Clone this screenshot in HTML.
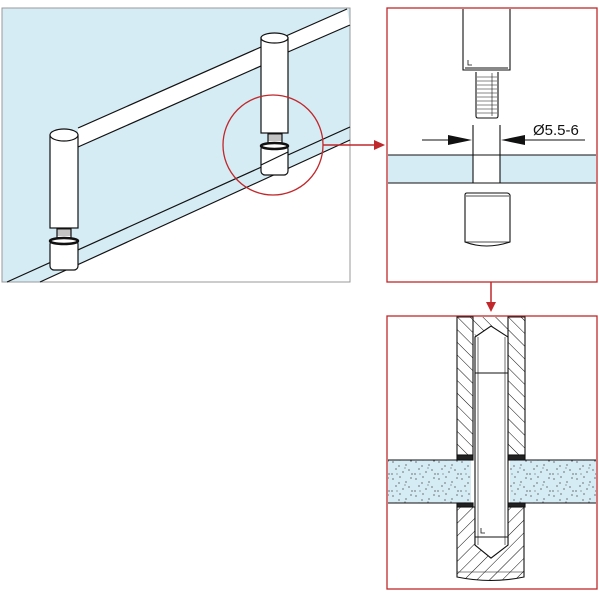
<!DOCTYPE html>
<html><head><meta charset="utf-8"><style>html,body{margin:0;padding:0;background:#fff}svg{display:block}</style></head>
<body>
<svg width="600" height="600" viewBox="0 0 600 600" xmlns="http://www.w3.org/2000/svg">
<defs>
<pattern id="h1" width="9" height="9" patternUnits="userSpaceOnUse" patternTransform="rotate(45)"><line x1="0" y1="0" x2="0" y2="9" stroke="#111" stroke-width="1"/></pattern>
<pattern id="h2" width="9" height="9" patternUnits="userSpaceOnUse" patternTransform="rotate(-45)"><line x1="0" y1="0" x2="0" y2="9" stroke="#111" stroke-width="1"/></pattern>
<pattern id="dots" width="23" height="17" patternUnits="userSpaceOnUse">
<rect width="23" height="17" fill="#d6ecf5"/>
<g fill="#222"><circle cx="2" cy="3" r=".6"/><circle cx="9" cy="1" r=".6"/><circle cx="15" cy="6" r=".6"/><circle cx="20" cy="2" r=".6"/><circle cx="5" cy="10" r=".6"/><circle cx="12" cy="13" r=".6"/><circle cx="18" cy="11" r=".6"/><circle cx="1" cy="15" r=".6"/><circle cx="8" cy="7" r=".6"/><circle cx="21" cy="15" r=".6"/><circle cx="14" cy="9" r=".5"/><circle cx="6" cy="15" r=".5"/></g>
</pattern>
</defs>
<!-- left panel -->
<polygon points="2,8 350,8 350,140 40,282 2,282" fill="#d6ecf5"/>
<rect x="2" y="8" width="348" height="274" fill="none" stroke="#999" stroke-width="1"/>
<g stroke="#111" stroke-width="1.2" fill="none">
<line x1="7" y1="282" x2="350" y2="127"/>
<line x1="40" y1="282" x2="350" y2="140"/>
<!-- rail -->
<polygon points="78,128 347,9 350,25 288,52 270,62 78,147" fill="#fff" stroke="none"/>
<line x1="78" y1="128" x2="347" y2="9"/>
<line x1="78" y1="147" x2="270" y2="62"/>
<line x1="288" y1="52" x2="350" y2="25"/>
<!-- left post -->
<rect x="50" y="135" width="28" height="93" fill="#fff"/>
<ellipse cx="64" cy="135" rx="14" ry="6" fill="#fff"/>
<rect x="57" y="229" width="14" height="9" fill="#fff"/>
<path d="M57,231h14M57,233h14M57,235h14" stroke-width=".6"/>
<rect x="50" y="240" width="28" height="30" rx="4" fill="#fff"/>
<ellipse cx="64" cy="241" rx="14" ry="3" fill="#fff" stroke-width="2.5"/>
<!-- right post -->
<path d="M270,52 q10,-4 12,6 q-2,6 -12,8" fill="#fff"/>
<rect x="261" y="38" width="27" height="95" fill="#fff"/>
<ellipse cx="274.5" cy="38" rx="13.5" ry="5" fill="#fff"/>
<rect x="268" y="134" width="14" height="9" fill="#fff"/>
<path d="M268,136h14M268,138h14M268,140h14" stroke-width=".6"/>
<rect x="261" y="145" width="27" height="30" rx="4" fill="#fff"/>
<ellipse cx="274.5" cy="146" rx="13.5" ry="3" fill="#fff" stroke-width="2.5"/>
</g>
<line x1="261" y1="165" x2="288" y2="152" stroke="#111" stroke-width="1.2"/>
<circle cx="273" cy="145" r="50" fill="none" stroke="#c0282b" stroke-width="1.3"/>
<line x1="323" y1="145" x2="374" y2="145" stroke="#c0282b" stroke-width="1.5"/>
<polygon points="374,140 385,145 374,150" fill="#c0282b"/>
<!-- right top panel -->
<rect x="387" y="8" width="210" height="274" fill="#fff" stroke="#c0282b" stroke-width="1.3"/>
<rect x="388" y="155" width="208" height="28" fill="#d6ecf5"/>
<rect x="473" y="155" width="27" height="28" fill="#fff"/>
<g stroke="#111" stroke-width="1.1" fill="none">
<line x1="388" y1="155" x2="596" y2="155"/><line x1="388" y1="183" x2="596" y2="183"/>
<line x1="473" y1="125" x2="473" y2="183"/><line x1="500" y1="125" x2="500" y2="183"/>
<path d="M463,9 V70 H510 V9" fill="#fff"/>
<path d="M465,68 H508"/>
<path d="M468,60 v5 h4" stroke-width=".8"/>
<path d="M476,72 V116 q0,2 2,2 H496 q2,0 2,-2 V72" fill="#fff"/>
<path d="M477,77h20M477,81h20M477,85h20M477,89h20M477,93h20M477,97h20M477,101h20M477,105h20M477,109h20M477,113h20" stroke-width=".6"/>
<line x1="492" y1="73" x2="492" y2="116" stroke-width=".6"/>
<line x1="422" y1="140" x2="460" y2="140"/><line x1="513" y1="140" x2="585" y2="140"/>
<path d="M465,195 V242 Q486,250 510,242 V195 Q509,193 507,193 H467 Q465,193 465,195Z" fill="#fff"/>
<line x1="466" y1="196" x2="509" y2="196" stroke-width=".7"/>
<line x1="465" y1="242" x2="510" y2="242" stroke-width=".7"/>
</g>
<polygon points="448,135 472,140 448,145" fill="#111"/>
<polygon points="525,135 501,140 525,145" fill="#111"/>
<text x="533" y="135" font-family="Liberation Sans, sans-serif" font-size="15" fill="#111">Ø5.5-6</text>
<line x1="491" y1="282" x2="491" y2="303" stroke="#c0282b" stroke-width="1.5"/>
<polygon points="486,302 491,312 496,302" fill="#c0282b"/>
<!-- bottom panel -->
<rect x="387" y="316" width="210" height="273" fill="#fff" stroke="#c0282b" stroke-width="1.3"/>
<rect x="388" y="460" width="208" height="43" fill="url(#dots)"/>
<g stroke="#111" stroke-width="1.1">
<line x1="388" y1="460" x2="471" y2="460"/><line x1="510" y1="460" x2="596" y2="460"/>
<line x1="388" y1="503" x2="471" y2="503"/><line x1="510" y1="503" x2="596" y2="503"/>
<rect x="471" y="460" width="39" height="43" fill="#fff" stroke="none"/>
<path d="M457,317 V455 H473 V317Z M508,317 V455 H525 V317Z" fill="url(#h2)"/>
<path d="M473,317 H508 V337 L491,326 L475,337 Z" fill="url(#h2)" stroke="none"/>
<path d="M457,507 V577 Q491,584 524,577 V507 H508 V545 L491,558 L475,545 V507 Z" fill="url(#h1)"/>
<rect x="457" y="455" width="16" height="5" fill="#222"/><rect x="508" y="455" width="17" height="5" fill="#222"/>
<rect x="457" y="503" width="16" height="4" fill="#222"/><rect x="508" y="503" width="17" height="4" fill="#222"/>
<path d="M475,337 L491,326 L508,337 V545 L491,558 L475,545 Z" fill="#fff"/>
<line x1="478" y1="337" x2="478" y2="545" stroke-width=".6"/>
<line x1="505" y1="337" x2="505" y2="545" stroke-width=".6"/>
<line x1="475" y1="373" x2="508" y2="373"/>
<line x1="475" y1="537" x2="508" y2="537"/>
<path d="M481,528 v5 h4" stroke-width=".8" fill="none"/>
<line x1="457" y1="572" x2="524" y2="572" stroke-width=".6"/>
</g>
</svg>
</body></html>
